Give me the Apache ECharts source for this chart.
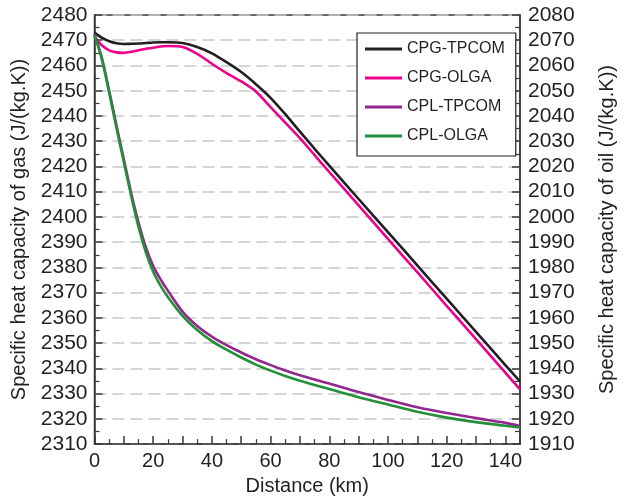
<!DOCTYPE html>
<html>
<head>
<meta charset="utf-8">
<script src="https://cdn.jsdelivr.net/npm/echarts@6/dist/echarts.min.js"></script>
<style>
  html, body { margin: 0; padding: 0; background: #ffffff; }
  #chart { width: 625px; height: 501px; }
</style>
</head>
<body>
<div id="chart"></div>
<script>
// Distance (km)
const distance = [0, 2.5, 5, 7.5, 10, 12.5, 15, 17.5, 20, 22.5, 25, 30, 35, 40, 45, 50, 55, 60, 65, 70, 75, 80, 90, 100, 110, 120, 130, 140, 145];

// Gas specific heat capacity (left axis, J/(kg.K))
const cpgTpcom = [2473.0, 2471.0, 2469.6, 2468.8, 2468.5, 2468.6, 2468.7, 2468.9, 2469.1, 2469.2, 2469.2, 2468.9, 2467.3, 2464.8, 2461.3, 2457.4, 2452.6, 2447.2, 2440.7, 2433.8, 2427.0, 2420.3, 2407.1, 2394.0, 2380.8, 2367.6, 2354.5, 2341.3, 2334.8];
const cpgOlga  = [2471.5, 2468.0, 2466.0, 2465.2, 2465.0, 2465.4, 2466.0, 2466.6, 2467.0, 2467.5, 2467.7, 2467.3, 2464.6, 2460.7, 2457.0, 2453.7, 2449.7, 2443.5, 2437.4, 2431.2, 2424.5, 2417.8, 2404.6, 2391.3, 2378.1, 2364.8, 2351.6, 2338.3, 2331.7];

// Oil specific heat capacity (right axis, J/(kg.K))
const cplTpcom = [2072.5, 2063.0, 2050.0, 2036.2, 2022.8, 2009.5, 1997.8, 1988.0, 1980.5, 1975.3, 1970.8, 1962.5, 1956.8, 1952.6, 1949.2, 1946.3, 1943.6, 1941.3, 1939.2, 1937.3, 1935.6, 1934.0, 1930.6, 1927.5, 1924.6, 1922.3, 1920.3, 1918.4, 1917.2];
const cplOlga  = [2072.0, 2062.5, 2049.2, 2035.2, 2021.7, 2008.3, 1996.0, 1986.0, 1978.3, 1972.8, 1968.3, 1960.8, 1955.2, 1950.8, 1947.4, 1944.3, 1941.5, 1939.1, 1937.0, 1935.1, 1933.4, 1931.8, 1928.6, 1925.7, 1922.8, 1920.5, 1918.7, 1917.3, 1916.6];

const seriesNames = ['CPG-TPCOM', 'CPG-OLGA', 'CPL-TPCOM', 'CPL-OLGA'];
const xAxisName = 'Distance (km)';
const yLeftName = 'Specific heat capacity of gas (J/(kg.K))';
const yRightName = 'Specific heat capacity of oil (J/(kg.K))';

const FONT = 'Liberation Sans, Arial, Helvetica, sans-serif';
const TEXT = '#231f20';
const AXIS = '#3a3a3a';

function pairs(xs, ys) { return xs.map((x, i) => [x, ys[i]]); }

const chart = echarts.init(document.getElementById('chart'), null, { renderer: 'canvas' });

function mkSeries(name, data, color, yIdx) {
  return {
    name: name, type: 'line', yAxisIndex: yIdx, data: pairs(distance, data),
    smooth: 0.3, symbol: 'none', clip: true,
    lineStyle: { color: color, width: 2.6 }, itemStyle: { color: color }
  };
}

chart.setOption({
  animation: false,
  backgroundColor: '#ffffff',
  textStyle: { fontFamily: FONT, color: TEXT },
  grid: { left: 94.5, right: 85, top: 15, bottom: 51.5, show: true, borderColor: AXIS, borderWidth: 1.5, backgroundColor: 'transparent' },
  legend: {
    orient: 'vertical', left: 357, top: 33,
    padding: [8, 11, 12, 8],
    itemWidth: 37, itemHeight: 16, itemGap: 13,
    borderColor: TEXT, borderWidth: 1.2, backgroundColor: '#ffffff',
    textStyle: { fontFamily: FONT, fontSize: 16, color: TEXT },
    data: seriesNames.map(n => ({ name: n, icon: 'path://M0,6.5 L37,6.5 L37,9.5 L0,9.5 Z' }))
  },
  xAxis: {
    type: 'value', min: 0, max: 145, interval: 10,
    name: xAxisName, nameLocation: 'middle', nameGap: 28,
    nameTextStyle: { fontFamily: FONT, fontSize: 20, color: TEXT },
    axisLine: { lineStyle: { color: AXIS, width: 1.5 } },
    axisTick: { inside: true, length: 8, lineStyle: { color: AXIS, width: 1.5 } },
    minorTick: { show: true, splitNumber: 2, length: 5, lineStyle: { color: AXIS, width: 1.2 } },
    axisLabel: { fontFamily: FONT, fontSize: 20, color: TEXT, margin: 7,
      formatter: v => (v % 20 === 0 ? String(v) : '') },
    splitLine: { show: false }
  },
  yAxis: [
    {
      type: 'value', min: 2310, max: 2480, interval: 10, position: 'left',
      name: yLeftName, nameLocation: 'middle', nameGap: 60, nameRotate: 90,
      nameTextStyle: { fontFamily: FONT, fontSize: 20, color: TEXT },
      axisLine: { show: true, lineStyle: { color: AXIS, width: 1.5 } },
      axisTick: { inside: true, length: 8, lineStyle: { color: AXIS, width: 1.5 } },
      minorTick: { show: true, splitNumber: 2, length: 5, lineStyle: { color: AXIS, width: 1.2 } },
      axisLabel: { fontFamily: FONT, fontSize: 21, color: TEXT, margin: 7, formatter: v => String(v) },
      splitLine: { show: true, lineStyle: { color: '#c8c8c8', width: 1.5, type: [12, 6] } }
    },
    {
      type: 'value', min: 1910, max: 2080, interval: 10, position: 'right',
      name: yRightName, nameLocation: 'middle', nameGap: 77, nameRotate: 90,
      nameTextStyle: { fontFamily: FONT, fontSize: 20, color: TEXT },
      axisLine: { show: true, lineStyle: { color: AXIS, width: 1.5 } },
      axisTick: { inside: true, length: 8, lineStyle: { color: AXIS, width: 1.5 } },
      minorTick: { show: true, splitNumber: 2, length: 5, lineStyle: { color: AXIS, width: 1.2 } },
      axisLabel: { fontFamily: FONT, fontSize: 21, color: TEXT, margin: 8, formatter: v => String(v) },
      splitLine: { show: false }
    }
  ],
  series: [
    mkSeries(seriesNames[0], cpgTpcom, '#231f20', 0),
    mkSeries(seriesNames[1], cpgOlga, '#ec008c', 0),
    mkSeries(seriesNames[2], cplTpcom, '#92278f', 1),
    mkSeries(seriesNames[3], cplOlga, '#239039', 1)
  ]
});
</script>
</body>
</html>
